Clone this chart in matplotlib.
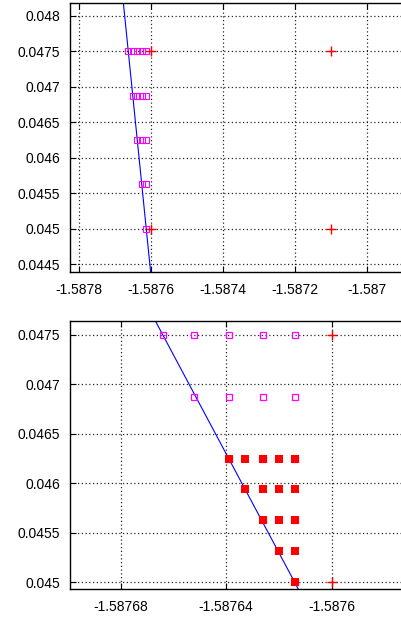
import matplotlib
matplotlib.use('Agg')
import matplotlib.pyplot as plt

plt.rcParams['font.family'] = ['Liberation Sans', 'DejaVu Sans']
plt.rcParams['font.size'] = 10

# open magenta squares
mag_x = [-1.587664, -1.587652, -1.587639, -1.587626, -1.587614,
         -1.587652, -1.587639, -1.587626, -1.587614,
         -1.587639, -1.587626, -1.587614,
         -1.587626, -1.587614,
         -1.587614]
mag_y = [0.0475, 0.0475, 0.0475, 0.0475, 0.0475,
         0.046875, 0.046875, 0.046875, 0.046875,
         0.04625, 0.04625, 0.04625,
         0.045625, 0.045625,
         0.045]

# filled red squares (only in the zoomed panel)
red_x = [-1.587639, -1.587633, -1.587626, -1.58762, -1.587614,
         -1.587633, -1.587626, -1.58762, -1.587614,
         -1.587626, -1.58762, -1.587614,
         -1.58762, -1.587614,
         -1.587614]
red_y = [0.04625, 0.04625, 0.04625, 0.04625, 0.04625,
         0.045938, 0.045938, 0.045938, 0.045938,
         0.045625, 0.045625, 0.045625,
         0.045313, 0.045313,
         0.045]

# red crosses
cross_x = [-1.5876, -1.5871, -1.5876, -1.5871]
cross_y = [0.0475, 0.0475, 0.045, 0.045]

# blue boundary line
line_x = [-1.587602, -1.587678]
line_y = [0.0444, 0.0482]

top_xticks = [-1.5878, -1.5876, -1.5874, -1.5872, -1.587]
top_xlabels = ['-1.5878', '-1.5876', '-1.5874', '-1.5872', '-1.587']
top_yticks = [0.0445, 0.045, 0.0455, 0.046, 0.0465, 0.047, 0.0475, 0.048]
top_ylabels = ['0.0445', '0.045', '0.0455', '0.046', '0.0465', '0.047', '0.0475', '0.048']

bot_xticks = [-1.58768, -1.58764, -1.5876]
bot_xlabels = ['-1.58768', '-1.58764', '-1.5876']
bot_yticks = [0.045, 0.0455, 0.046, 0.0465, 0.047, 0.0475]
bot_ylabels = ['0.045', '0.0455', '0.046', '0.0465', '0.047', '0.0475']

fig = plt.figure(figsize=(4.02, 6.17), dpi=100)
ax1 = fig.add_axes([70 / 402, 1 - 271.7 / 617, 332 / 402, 268.4 / 617])
ax2 = fig.add_axes([70 / 402, 1 - 589 / 617, 332 / 402, 268 / 617])


def style(ax, xt, xl, yt, yl, xlim, ylim):
    ax.set_xlim(*xlim)
    ax.set_ylim(*ylim)
    ax.set_xticks(xt)
    ax.set_xticklabels(xl)
    ax.set_yticks(yt)
    ax.set_yticklabels(yl)
    ax.grid(True, color='black', linestyle=(0, (1, 2)), linewidth=0.9, alpha=0.85)
    ax.set_axisbelow(True)
    ax.tick_params(direction='in', top=True, length=4, width=0.8,
                   labelsize=10, colors='black', pad=7)
    ax.tick_params(axis='x', pad=8)
    ax.spines['right'].set_visible(False)
    for s in ['top', 'left', 'bottom']:
        ax.spines[s].set_linewidth(1.0)


# top panel
ax1.plot(line_x, line_y, color='blue', linewidth=0.8, zorder=2)
ax1.plot(mag_x, mag_y, 's', mfc='none', mec='#ff00ff', ms=4.8, mew=0.8, zorder=3)
ax1.plot(cross_x, cross_y, '+', color='#ff0000', ms=7, mew=1.0, zorder=4)
style(ax1, top_xticks, top_xlabels, top_yticks, top_ylabels,
      (-1.587826, -1.586903), (0.044396, 0.048176))

# bottom panel
ax2.plot(line_x, line_y, color='blue', linewidth=0.8, zorder=2)
ax2.plot(mag_x, mag_y, 's', mfc='none', mec='#ff00ff', ms=5, mew=0.9, zorder=3)
ax2.plot(red_x, red_y, 's', color='#ff0000', ms=5.5, mew=0, zorder=4)
ax2.plot(cross_x, cross_y, '+', color='#ff0000', ms=7, mew=1.0, zorder=5)
style(ax2, bot_xticks, bot_xlabels, bot_yticks, bot_ylabels,
      (-1.5876992, -1.5875733), (0.044932, 0.047641))

fig.savefig('out.png', dpi=100)
